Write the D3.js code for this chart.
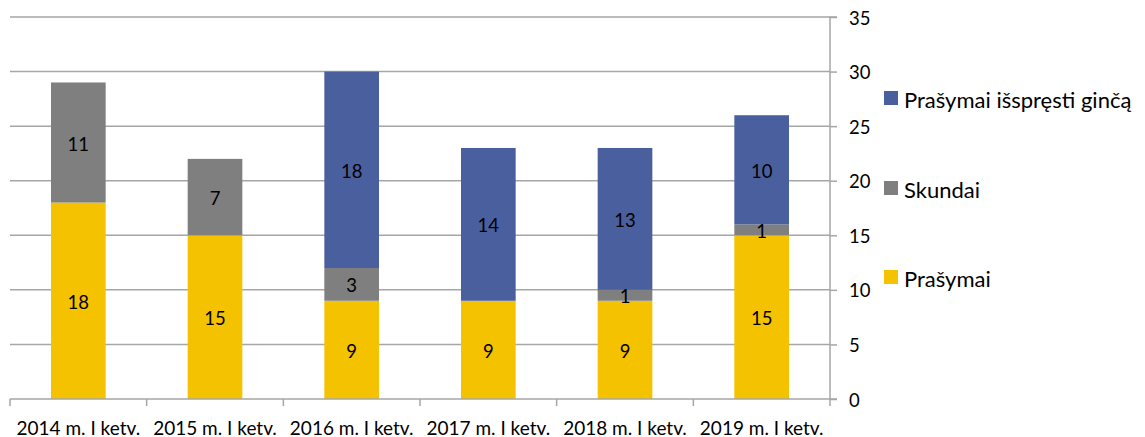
<!DOCTYPE html>
<html><head><meta charset="utf-8">
<script src="https://cdn.jsdelivr.net/npm/d3@7"></script>
<style>body{margin:0;background:#fff}svg{display:block;font-family:Lato,"Open Sans",sans-serif}</style>
</head><body><svg id="c" width="1145" height="437"></svg>
<script>
const categories = ["2014 m. I ketv.","2015 m. I ketv.","2016 m. I ketv.","2017 m. I ketv.","2018 m. I ketv.","2019 m. I ketv."];
const prasymai = [18,15,9,9,9,15];
const skundai = [11,7,3,0,1,1];
const isspresti = [0,0,18,14,13,10];
const seriesNames = ["Prašymai","Skundai","Prašymai išspręsti ginčą"];
const colors = ["#F5C200","#7F7F7F","#4A5F9E"];
const yTicks = [0,5,10,15,20,25,30,35];

const svg = d3.select("#c");
const L=10,R=830,T=17,B=399;
const x = d3.scaleBand().domain(categories).range([L,R]).paddingInner(0.6).paddingOuter(0.3);
const y = d3.scaleLinear().domain([0,35]).range([B,T]);

svg.append("g").selectAll("line").data(yTicks.filter(d=>d>0)).join("line")
  .attr("x1",L).attr("x2",R).attr("y1",d=>y(d)).attr("y2",d=>y(d))
  .attr("stroke","#a6a6a6").attr("stroke-width",1.5);

const data = categories.map((c,i)=>({cat:c,"Prašymai":prasymai[i],"Skundai":skundai[i],"Prašymai išspręsti ginčą":isspresti[i]}));
const stack = d3.stack().keys(seriesNames)(data);

const g = svg.append("g");
stack.forEach((s,si)=>{
  g.selectAll(null).data(s.filter(d=>d[1]-d[0]>0)).join("rect")
    .attr("x",d=>x(d.data.cat)).attr("width",x.bandwidth())
    .attr("y",d=>y(d[1])).attr("height",d=>y(d[0])-y(d[1]))
    .attr("fill",colors[si]);
});
stack.forEach((s,si)=>{
  g.selectAll(null).data(s.filter(d=>d[1]-d[0]>0)).join("text")
    .attr("x",d=>x(d.data.cat)+x.bandwidth()/2).attr("y",d=>(y(d[0])+y(d[1]))/2+1)
    .attr("text-anchor","middle").attr("dominant-baseline","central")
    .attr("font-size",18.5).attr("fill","#000").text(d=>d[1]-d[0]);
});

const ya = svg.append("g").attr("transform",`translate(${R},0)`)
  .call(d3.axisRight(y).tickValues(yTicks).tickSize(7).tickPadding(12));
ya.select(".domain").attr("stroke","#a6a6a6").attr("stroke-width",1.5).attr("d",`M7,${T}H0V${B}H7`);
ya.selectAll(".tick line").attr("stroke","#a6a6a6").attr("stroke-width",1.5);
ya.selectAll(".tick text").attr("font-size",18.5).attr("fill","#000").attr("font-family","Lato,sans-serif")
  .attr("dy",null).attr("dominant-baseline","central");

const xa = svg.append("g").attr("transform",`translate(0,${B})`)
  .call(d3.axisBottom(x).tickSize(0));
xa.select(".domain").attr("stroke","#a6a6a6").attr("stroke-width",1.5).attr("d",`M${L},0H${R}`);
xa.selectAll(".tick text").attr("font-size",19).attr("fill","#000").attr("font-family","Lato,sans-serif")
  .attr("y",28).attr("dy",null).attr("dominant-baseline","central");
const bounds = categories.map(c=>x(c)-x.step()*x.paddingInner()/2).concat([R]);
xa.selectAll("line.b").data(bounds).join("line").attr("class","b")
  .attr("x1",d=>d).attr("x2",d=>d).attr("y1",0).attr("y2",7)
  .attr("stroke","#a6a6a6").attr("stroke-width",1.5);

const legendItems = [2,1,0];
const legendY = [98,188,277];
const lg = svg.append("g");
legendItems.forEach((si,k)=>{
  lg.append("rect").attr("x",884).attr("y",legendY[k]-7).attr("width",14).attr("height",14).attr("fill",colors[si]);
  lg.append("text").attr("x",904).attr("y",legendY[k]+1).attr("dominant-baseline","central")
    .attr("font-size",22).attr("fill","#000").text(seriesNames[si]);
});
</script></body></html>
